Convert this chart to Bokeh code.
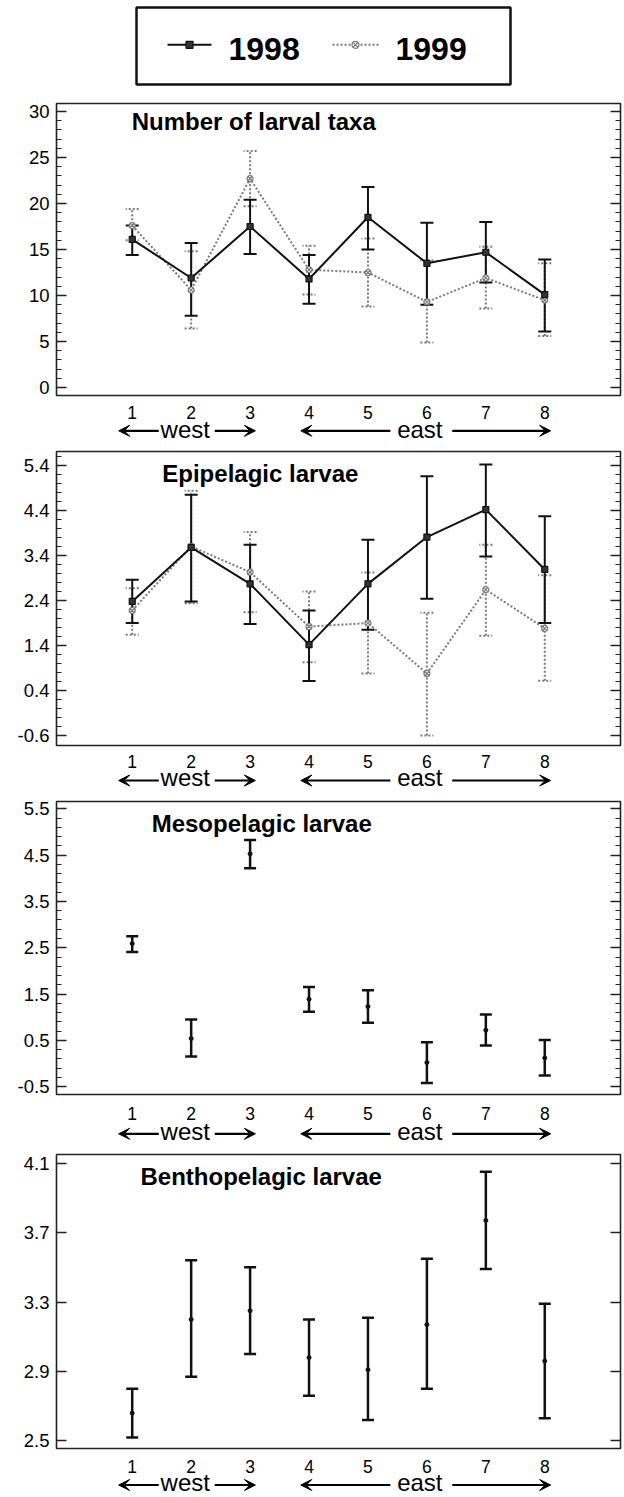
from bokeh.plotting import figure
from bokeh.models import (Range1d, FixedTicker, LinearAxis, Whisker, TeeHead, Arrow,
                          VeeHead, Label, ColumnDataSource, PrintfTickFormatter,
                          CustomJSTickFormatter)
from bokeh.layouts import column
from bokeh.embed import file_html
from bokeh.resources import INLINE
from bokeh.core.properties import value

# ---------------- data ----------------
stations = [1, 2, 3, 4, 5, 6, 7, 8]
years = ["1998", "1999"]

taxa_1998 = [16.1, 11.9, 17.5, 11.8, 18.5, 13.5, 14.7, 10.1]
taxa_1998_lo = [14.4, 7.8, 14.5, 9.1, 15.0, 9.0, 11.4, 6.1]
taxa_1998_hi = [17.6, 15.7, 20.4, 14.4, 21.8, 17.9, 18.0, 13.9]
taxa_1999 = [17.6, 10.6, 22.7, 12.8, 12.5, 9.3, 11.9, 9.5]
taxa_1999_lo = [16.0, 6.4, 19.7, 10.1, 8.8, 4.9, 8.6, 5.6]
taxa_1999_hi = [19.4, 14.8, 25.7, 15.4, 16.2, 13.8, 15.3, 13.5]

epi_1998 = [2.38, 3.58, 2.77, 1.42, 2.77, 3.81, 4.42, 3.09]
epi_1998_lo = [1.90, 2.38, 1.88, 0.61, 1.75, 2.44, 3.38, 1.90]
epi_1998_hi = [2.86, 4.75, 3.64, 2.18, 3.75, 5.16, 5.42, 4.27]
epi_1999 = [2.18, 3.60, 3.03, 1.82, 1.90, 0.78, 2.64, 1.78]
epi_1999_lo = [1.64, 2.34, 2.14, 1.03, 0.78, -0.60, 1.62, 0.62]
epi_1999_hi = [2.67, 4.84, 3.92, 2.60, 3.02, 2.13, 3.64, 2.96]

meso = [2.59, 0.54, 4.53, 1.39, 1.23, 0.02, 0.72, 0.12]
meso_lo = [2.41, 0.15, 4.22, 1.12, 0.88, -0.42, 0.39, -0.26]
meso_hi = [2.75, 0.95, 4.83, 1.65, 1.58, 0.46, 1.06, 0.51]

bentho = [2.66, 3.20, 3.25, 2.98, 2.91, 3.17, 3.77, 2.96]
bentho_lo = [2.52, 2.87, 3.00, 2.76, 2.62, 2.80, 3.49, 2.63]
bentho_hi = [2.80, 3.54, 3.50, 3.20, 3.21, 3.55, 4.05, 3.29]

titles = ["Number of larval taxa", "Epipelagic larvae", "Mesopelagic larvae", "Benthopelagic larvae"]

region_names = ["west", "east"]
region_centers = [1.90, 5.88]
region_tips = [(0.77, 3.09), (3.86, 8.10)]
region_gaps = [(1.45, 2.40), (5.38, 6.43)]

FONT = "Liberation Sans"
BLACK = "#111111"
GREY = "#7a7a7a"
W = 624
BL, BR = 56, 4

xr = Range1d(-0.285, 9.285)


def base_fig(h, xrange, yrange, top, bottom, xloc="below"):
    f = figure(width=W, height=h, x_range=xrange, y_range=yrange,
               output_backend="svg", toolbar_location=None, tools="",
               x_axis_location=xloc,
               min_border_left=BL, min_border_right=BR,
               min_border_top=top, min_border_bottom=bottom)
    f.grid.visible = False
    f.background_fill_color = "white"
    f.border_fill_color = "white"
    return f


def make_panel(title, yr, ticker_major, minor, fmt, border_top, frame_h, title_x, title_y):
    h = border_top + frame_h + 2
    p = base_fig(h, xr, Range1d(*yr), border_top, 2)
    p.xaxis.visible = False
    p.outline_line_color = "#222222"
    p.outline_line_width = 1.6

    ya = p.yaxis[0]
    ya.ticker = FixedTicker(ticks=ticker_major, minor_ticks=minor)
    ya.formatter = PrintfTickFormatter(format=fmt)
    ya.major_tick_in = 10
    ya.major_tick_out = 0
    ya.minor_tick_in = 5
    ya.minor_tick_out = 0
    ya.axis_line_color = None
    ya.major_tick_line_color = "#222222"
    ya.minor_tick_line_color = "#222222"
    ya.major_tick_line_width = 1.5
    ya.minor_tick_line_width = 1.2
    ya.major_label_text_font = FONT
    ya.major_label_text_font_size = "18.5px"
    ya.major_label_text_color = "black"
    ya.major_label_standoff = 7

    ra = LinearAxis(ticker=FixedTicker(ticks=ticker_major, minor_ticks=minor),
                    formatter=CustomJSTickFormatter(code="return ''"),
                    major_tick_in=10, major_tick_out=0, minor_tick_in=5, minor_tick_out=0,
                    axis_line_color=None, major_label_standoff=0,
                    major_tick_line_color="#222222", minor_tick_line_color="#222222",
                    major_tick_line_width=1.5, minor_tick_line_width=1.2)
    p.add_layout(ra, "right")

    p.add_layout(Label(x=title_x, y=title_y, text=title, text_font=FONT,
                       text_font_size="24px", text_font_style="bold",
                       text_baseline="middle", text_align="left", text_color="black"))
    return p


def add_series(p, ys, lo, hi, color, dash, marker, msize, cap, lw, with_line=True):
    src = ColumnDataSource(dict(x=stations, y=ys, lo=lo, hi=hi))
    if with_line:
        p.line("x", "y", source=src, line_color=color, line_width=2, line_dash=dash)
    head_kw = dict(size=cap, line_color=color, line_width=lw)
    if dash != "solid":
        head_kw["line_dash"] = dash
    w = Whisker(base="x", upper="hi", lower="lo", source=src,
                line_color=color, line_width=lw, line_dash=dash,
                upper_head=TeeHead(**head_kw), lower_head=TeeHead(**head_kw))
    p.add_layout(w)
    if marker == "square":
        p.scatter("x", "y", source=src, marker="square", size=msize,
                  fill_color="#333333", line_color=color, line_width=1.2)
    elif marker == "asterisk":
        p.scatter("x", "y", source=src, marker="circle_x", size=msize,
                  fill_color="white", line_color=color, line_width=1.2)
    else:
        p.scatter("x", "y", source=src, marker="circle", size=msize,
                  fill_color=color, line_color=color)


def make_strip(h, top, arrow_y, text_y):
    fh = h - top
    s = base_fig(h, xr, Range1d(fh, 0), top, 0, xloc="above")
    s.yaxis.visible = False
    s.outline_line_color = None
    xa = s.xaxis[0]
    xa.ticker = FixedTicker(ticks=stations)
    xa.major_tick_in = 0
    xa.major_tick_out = 0
    xa.minor_tick_line_color = None
    xa.axis_line_color = None
    xa.major_label_text_font = FONT
    xa.major_label_text_font_size = "17.5px"
    xa.major_label_text_color = "black"
    xa.major_label_standoff = 2
    for name, c, (t0, t1), (g0, g1) in zip(region_names, region_centers, region_tips, region_gaps):
        for xs, xe in ((g0, t0), (g1, t1)):
            s.add_layout(Arrow(x_start=xs, y_start=arrow_y, x_end=xe, y_end=arrow_y,
                               line_color="black", line_width=2.2,
                               end=VeeHead(size=11, fill_color="black",
                                           line_color="black", line_width=1)))
        s.add_layout(Label(x=c, y=text_y, text=name, text_font=FONT, text_font_size="24px",
                           text_align="center", text_baseline="middle", text_color="black"))
    return s


# ---------------- legend ----------------
leg = base_fig(95, Range1d(56, 620), Range1d(95, 0), 0, 0)
leg.axis.visible = False
leg.outline_line_color = None
leg.quad(left=[136], right=[510], top=[7], bottom=[84], fill_color=None,
         line_color="#111111", line_width=2.5)
leg.line([167, 211], [44.3, 44.3], line_color=BLACK, line_width=2)
leg.scatter([189], [44.3], marker="square", size=7, fill_color="#333333", line_color=BLACK, line_width=1.2)
leg.line([332, 378], [44.3, 44.3], line_color=GREY, line_width=2, line_dash="2 2")
leg.scatter([355], [44.3], marker="circle_x", size=7, fill_color="white", line_color=GREY, line_width=1.2)
leg.text(x=[228, 395], y=[48.3, 48.3], text=years, text_font=value(FONT), text_font_size="32px",
         text_font_style="bold", text_baseline="middle", text_align="left", text_color="black")

# ---------------- panels ----------------
p1 = make_panel(titles[0], (-0.87, 30.87), [0, 5, 10, 15, 20, 25, 30],
                [v for v in range(0, 31)], "%d", 8, 292, 0.99, 28.88)
add_series(p1, taxa_1999, taxa_1999_lo, taxa_1999_hi, GREY, "2 2", "asterisk", 6, 13, 2)
add_series(p1, taxa_1998, taxa_1998_lo, taxa_1998_hi, BLACK, "solid", "square", 6, 13, 2)
s1 = make_strip(48, 23, 10.3, 8.7)

epi_major = [-0.6 + i for i in range(7)]
epi_minor = [round(-0.6 + 0.2 * i, 2) for i in range(32)]
p2 = make_panel(titles[1], (-0.82, 5.71), epi_major, epi_minor, "%.1f", 6, 294, 1.51, 5.23)
add_series(p2, epi_1999, epi_1999_lo, epi_1999_hi, GREY, "2 2", "asterisk", 6, 13, 2)
add_series(p2, epi_1998, epi_1998_lo, epi_1998_hi, BLACK, "solid", "square", 6, 13, 2)
s2 = make_strip(48, 22, 11.0, 8.4)

meso_major = [-0.5 + i for i in range(7)]
meso_minor = [round(-0.5 + 0.2 * i, 2) for i in range(31)]
p3 = make_panel(titles[2], (-0.67, 5.66), meso_major, meso_minor, "%.1f", 6, 293, 1.33, 5.18)
add_series(p3, meso, meso_lo, meso_hi, BLACK, "solid", "circle", 4, 12, 2.5, with_line=False)
s3 = make_strip(48, 25, 12.3, 9.7)

bentho_major = [2.5, 2.9, 3.3, 3.7, 4.1]
p4 = make_panel(titles[3], (2.456, 4.15), bentho_major, [], "%.1f", 10, 294, 1.14, 4.025)
add_series(p4, bentho, bentho_lo, bentho_hi, BLACK, "solid", "circle", 4, 12, 2.5, with_line=False)
s4 = make_strip(47, 24, 10.5, 8.0)

layout = column(leg, p1, s1, p2, s2, p3, s3, p4, s4, spacing=0)

open("out.html", "w").write(file_html(layout, INLINE))
